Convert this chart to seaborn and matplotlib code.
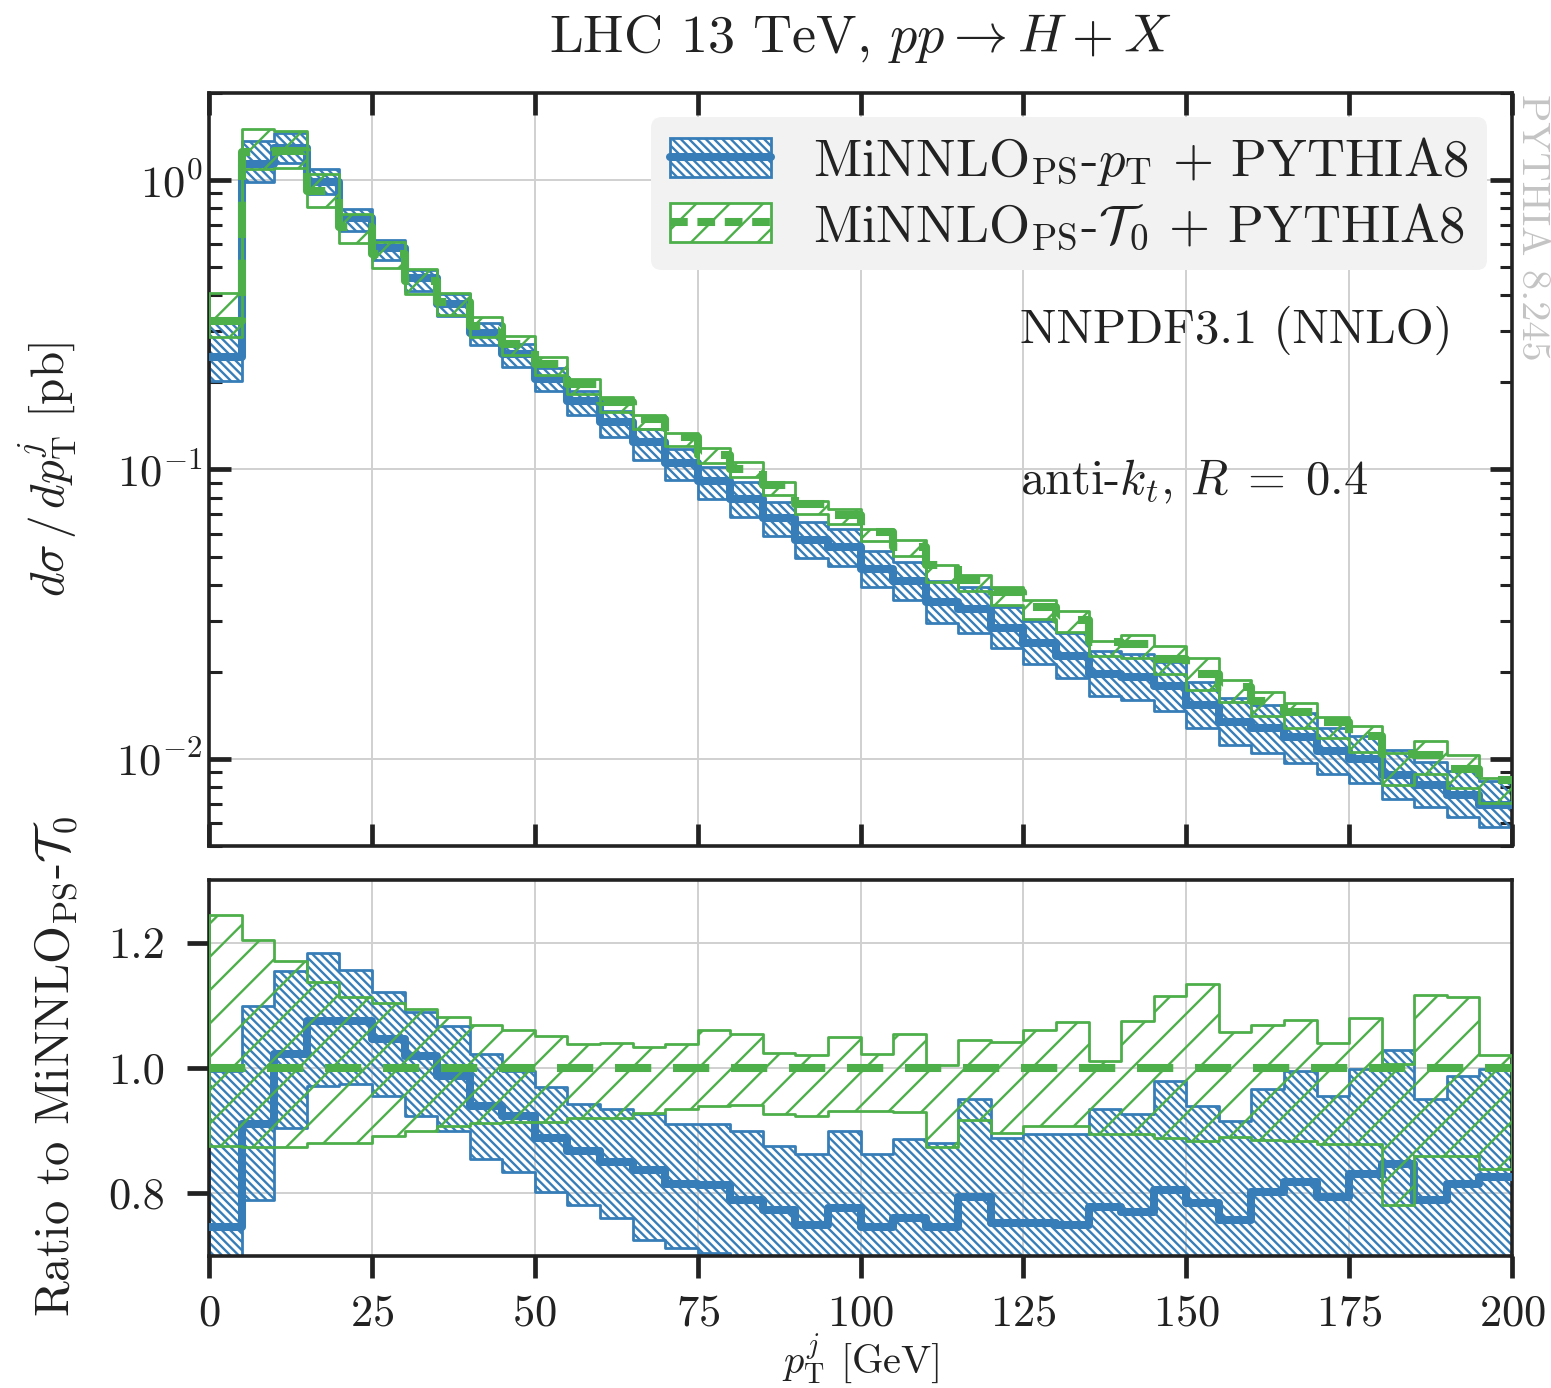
import numpy as np
import pandas as pd
import seaborn as sns
import matplotlib
matplotlib.use("Agg")
import matplotlib.pyplot as plt
from matplotlib.patches import Patch
from matplotlib.lines import Line2D
from matplotlib.ticker import LogLocator, NullLocator, FixedLocator, NullFormatter

# ---------------- data ----------------
bin_edges = np.arange(0, 205, 5)  # 40 bins of 5 GeV

# MiNNLO_PS-T0 central value [pb/GeV]
t0_central = [0.327, 1.246, 1.263, 0.919, 0.687, 0.555, 0.449, 0.378, 0.314, 0.272,
              0.232, 0.198, 0.171, 0.149, 0.129, 0.112, 0.1005, 0.0881, 0.0761, 0.0694,
              0.0608, 0.0540, 0.0467, 0.0414, 0.0378, 0.0334, 0.0303, 0.0253, 0.0249, 0.0221,
              0.0196, 0.0177, 0.0159, 0.0145, 0.0134, 0.0120, 0.0104, 0.0103, 0.00923, 0.00842]

# T0 uncertainty band, relative to T0 central
t0_ratio_hi = [1.244, 1.204, 1.171, 1.138, 1.114, 1.104, 1.094, 1.081, 1.069, 1.060,
               1.051, 1.038, 1.040, 1.033, 1.039, 1.060, 1.055, 1.024, 1.020, 1.050,
               1.022, 1.055, 1.005, 1.044, 1.042, 1.060, 1.073, 1.011, 1.075, 1.115,
               1.134, 1.057, 1.068, 1.077, 1.040, 1.080, 1.006, 1.116, 1.114, 1.020]
t0_ratio_lo = [0.876, 0.874, 0.874, 0.880, 0.881, 0.892, 0.900, 0.908, 0.913, 0.914,
               0.914, 0.920, 0.921, 0.928, 0.934, 0.940, 0.941, 0.926, 0.923, 0.932,
               0.932, 0.929, 0.874, 0.917, 0.897, 0.908, 0.907, 0.895, 0.895, 0.889,
               0.883, 0.890, 0.885, 0.884, 0.879, 0.879, 0.781, 0.859, 0.859, 0.839]

# MiNNLO_PS-pT, relative to T0 central
pt_ratio_c = [0.747, 0.911, 1.022, 1.075, 1.075, 1.046, 1.019, 0.987, 0.940, 0.924,
              0.889, 0.868, 0.850, 0.837, 0.815, 0.813, 0.789, 0.773, 0.749, 0.776,
              0.747, 0.760, 0.747, 0.794, 0.752, 0.752, 0.749, 0.778, 0.770, 0.805,
              0.784, 0.757, 0.802, 0.818, 0.794, 0.831, 0.847, 0.789, 0.815, 0.826]
pt_ratio_hi = [0.995, 1.099, 1.154, 1.184, 1.157, 1.122, 1.090, 1.067, 1.022, 0.995,
               0.969, 0.942, 0.934, 0.926, 0.911, 0.911, 0.900, 0.876, 0.863, 0.900,
               0.863, 0.887, 0.880, 0.950, 0.889, 0.895, 0.895, 0.934, 0.926, 0.979,
               0.940, 0.916, 0.966, 0.995, 0.956, 0.998, 1.029, 0.950, 0.987, 0.999]
pt_ratio_lo = [0.620, 0.789, 0.905, 0.971, 0.974, 0.956, 0.924, 0.900, 0.855, 0.834,
               0.802, 0.781, 0.760, 0.725, 0.712, 0.704, 0.680, 0.670, 0.650, 0.670,
               0.645, 0.655, 0.630, 0.660, 0.640, 0.635, 0.630, 0.650, 0.640, 0.660,
               0.650, 0.630, 0.660, 0.670, 0.660, 0.690, 0.700, 0.660, 0.680, 0.690]

x_ticks = [0, 25, 50, 75, 100, 125, 150, 175, 200]
ratio_ticks = [0.8, 1.0, 1.2]

label_pt = r"MiNNLO$_{\rm PS}$-$p_{\rm T}$ $+$ PYTHIA8"
label_t0 = r"MiNNLO$_{\rm PS}$-$\mathcal{T}_0$ $+$ PYTHIA8"

# ---------------- style ----------------
BLUE = "#377eb8"
GREEN = "#4daf4a"
DARK = "#222222"

sns.set_theme(style="whitegrid")
plt.rcParams.update({
    "font.family": ["cmr10", "DejaVu Serif"],
    "mathtext.fontset": "cm",
    "axes.formatter.use_mathtext": True,
    "axes.unicode_minus": False,
    "hatch.linewidth": 0.85,
    "axes.edgecolor": DARK,
    "axes.linewidth": 1.3,
    "grid.color": "#d0d0d0",
    "grid.linewidth": 0.7,
    "xtick.color": DARK,
    "ytick.color": DARK,
    "text.color": DARK,
    "axes.labelcolor": DARK,
})

fig = plt.figure(figsize=(7.755, 6.94), dpi=200)
ax1 = fig.add_axes([0.1348, 0.3905, 0.8401, 0.5425])
ax2 = fig.add_axes([0.1348, 0.0951, 0.8401, 0.2709], sharex=ax1)

edges = np.asarray(bin_edges, dtype=float)

t0c = np.asarray(t0_central)
t0_hi = t0c * np.asarray(t0_ratio_hi)
t0_lo = t0c * np.asarray(t0_ratio_lo)
pt_c = t0c * np.asarray(pt_ratio_c)
pt_hi = t0c * np.asarray(pt_ratio_hi)
pt_lo = t0c * np.asarray(pt_ratio_lo)

BLUE_HATCH = "\\" * 8
GREEN_HATCH = "//"
DASH = (0, (4.5, 2.7))


def ext(v):
    v = np.asarray(v)
    return np.append(v, v[-1])


def draw(ax, c_pt, lo_pt, hi_pt, c_t0, lo_t0, hi_t0):
    ax.fill_between(edges, ext(lo_pt), ext(hi_pt), step="post", facecolor="none",
                    edgecolor=BLUE, hatch=BLUE_HATCH, linewidth=1.0, zorder=2)
    df = pd.DataFrame({"x": edges, "y": ext(c_pt)})
    sns.lineplot(data=df, x="x", y="y", ax=ax, color=BLUE, lw=2.9,
                 drawstyle="steps-post", estimator=None, legend=False, zorder=3)
    ax.fill_between(edges, ext(lo_t0), ext(hi_t0), step="post", facecolor="none",
                    edgecolor=GREEN, hatch=GREEN_HATCH, linewidth=1.0, zorder=4)
    df = pd.DataFrame({"x": edges, "y": ext(c_t0)})
    sns.lineplot(data=df, x="x", y="y", ax=ax, color=GREEN, lw=2.9,
                 drawstyle="steps-post", estimator=None, legend=False, zorder=5)
    ax.lines[-1].set_linestyle(DASH)
    ax.set_xlabel("")
    ax.set_ylabel("")


draw(ax1, pt_c, pt_lo, pt_hi, t0c, t0_lo, t0_hi)
draw(ax2, pt_c / t0c, pt_lo / t0c, pt_hi / t0c, t0c / t0c, t0_lo / t0c, t0_hi / t0c)

# ---- top axes ----
ax1.set_yscale("log")
ax1.set_xlim(0, 200)
ax1.set_ylim(0.005, 2.0)
ax1.yaxis.set_major_locator(LogLocator(base=10))
ax1.yaxis.set_minor_locator(LogLocator(base=10, subs=np.arange(2, 10)))
ax1.yaxis.set_minor_formatter(NullFormatter())
ax1.xaxis.set_major_locator(FixedLocator(x_ticks))
ax1.xaxis.set_minor_locator(NullLocator())
ax1.tick_params(which="major", direction="in", length=8, width=1.7,
                top=True, bottom=True, left=True, right=True,
                labelbottom=False, labelsize=16, pad=2.2)
ax1.tick_params(which="minor", direction="in", length=4.5, width=1.1,
                left=True, right=True, bottom=False, top=False)
ax1.grid(True, which="major")
ax1.grid(False, which="minor")
ax1.set_ylabel(r"$d\sigma\,/\,dp_{\rm T}^{j}$ [pb]", fontsize=17)
ax1.yaxis.set_label_coords(-0.10, 0.5)

ax1.text(0.622, 0.685, "NNPDF3.1 (NNLO)", transform=ax1.transAxes,
         fontsize=17.5, va="center", ha="left")
ax1.text(0.622, 0.483, r"anti-$k_t$, $R\;=\;0.4$", transform=ax1.transAxes,
         fontsize=17.5, va="center", ha="left")

h_pt = (Patch(facecolor="white", edgecolor=BLUE, hatch=BLUE_HATCH, lw=1.0),
        Line2D([], [], color=BLUE, lw=2.9))
h_t0 = (Patch(facecolor="white", edgecolor=GREEN, hatch=GREEN_HATCH, lw=1.0),
        Line2D([], [], color=GREEN, lw=2.9, ls=(0, (2.2, 1.2))))
leg = ax1.legend([h_pt, h_t0], [label_pt, label_t0], loc="upper right",
                 bbox_to_anchor=(0.981, 0.968), borderaxespad=0.0,
                 fontsize=19, handlelength=1.92, handleheight=0.75,
                 handletextpad=0.8, labelspacing=0.25, borderpad=0.35,
                 frameon=True, fancybox=True, framealpha=1.0)
leg.get_frame().set_facecolor("#f2f2f2")
leg.get_frame().set_edgecolor("none")
leg.set_zorder(10)

# ---- ratio axes ----
ax2.set_ylim(0.7, 1.3)
ax2.yaxis.set_major_locator(FixedLocator(ratio_ticks))
ax2.set_yticklabels([f"{v:.1f}" for v in ratio_ticks])
ax2.xaxis.set_major_locator(FixedLocator(x_ticks))
ax2.xaxis.set_minor_locator(NullLocator())
ax2.yaxis.set_minor_locator(NullLocator())
ax2.tick_params(which="major", direction="out", length=8, width=1.7,
                top=False, right=False, left=True, bottom=True,
                labelbottom=True, labelsize=16, pad=6)
ax2.tick_params(axis="y", pad=8)
ax2.grid(True, which="major")
ax2.set_xlabel(r"$p_{\rm T}^{j}$ [GeV]", fontsize=14.5, va="bottom")
ax2.xaxis.set_label_coords(0.5, -0.3457)
ax2.set_ylabel(r"Ratio to MiNNLO$_{\rm PS}$-$\mathcal{T}_0$", fontsize=17.5)
ax2.yaxis.set_label_coords(-0.10, 0.505)

for ax in (ax1, ax2):
    for sp in ax.spines.values():
        sp.set_visible(True)
        sp.set_color(DARK)
        sp.set_linewidth(1.3)
    ax.set_axisbelow(True)

fig.text(0.5545, 0.9726, r"LHC 13 TeV, $pp \to H + X$", ha="center", va="center",
         fontsize=19.5)
fig.text(0.9878, 0.932, "PYTHIA 8.245", rotation=-90, ha="center", va="top",
         color="#c4c4c4", fontsize=14.5)

fig.savefig("out.png", dpi=200)
